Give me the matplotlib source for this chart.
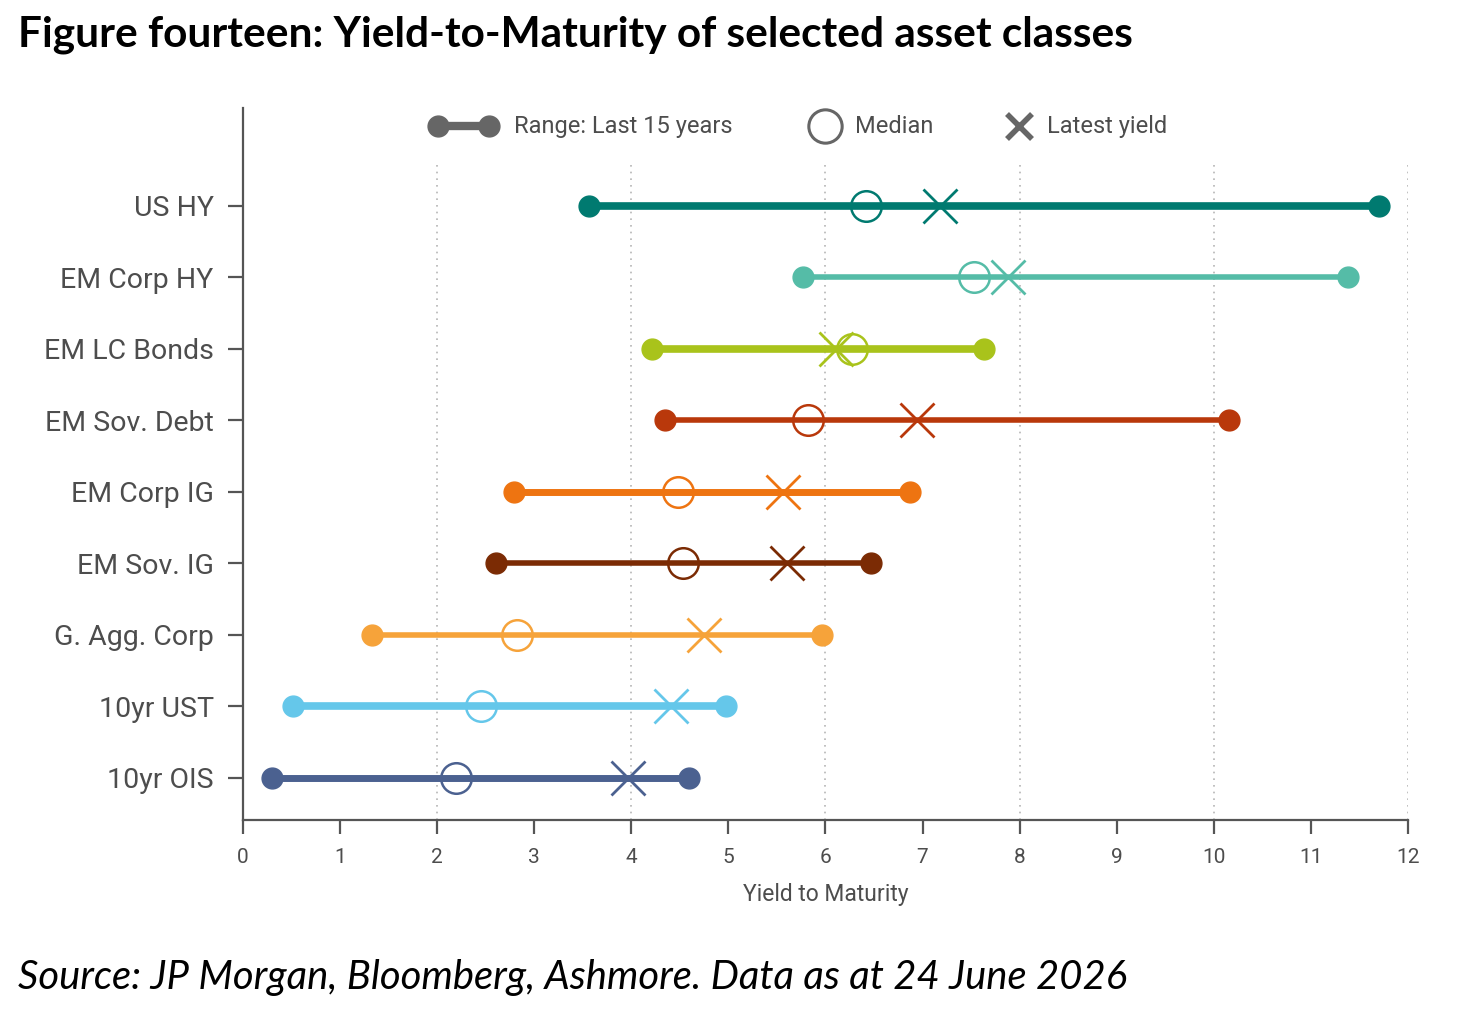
import matplotlib

matplotlib.use("Agg")
import matplotlib.pyplot as plt

# --- DATA ---
ASSETS = [
    "10yr OIS",
    "10yr UST",
    "G. Agg. Corp",
    "EM Sov. IG",
    "EM Corp IG",
    "EM Sov. Debt",
    "EM LC Bonds",
    "EM Corp HY",
    "US HY",
]
RANGE_MIN = [0.30, 0.52, 1.33, 2.61, 2.79, 4.35, 4.21, 5.77, 3.56]
RANGE_MAX = [4.59, 4.98, 5.96, 6.47, 6.87, 10.16, 7.63, 11.38, 11.70]
MEDIAN = [2.19, 2.45, 2.82, 4.53, 4.48, 5.82, 6.27, 7.53, 6.42]
LATEST = [3.97, 4.41, 4.75, 5.60, 5.56, 6.94, 6.11, 7.88, 7.18]
X_TICKS = list(range(0, 13))

# --- STYLE ---
COLORS = [
    "#4b6190",
    "#65c7ea",
    "#f6a33a",
    "#7b2b04",
    "#ee7411",
    "#b9380b",
    "#a9c31b",
    "#55bca7",
    "#007a70",
]
LINE_W = [5.0, 5.5, 4.0, 4.0, 5.0, 4.0, 5.5, 4.0, 5.5]
AXIS_GREY = "#555555"
TEXT_GREY = "#4d4d4d"
LEG_GREY = "#666666"

plt.rcParams["font.family"] = ["Roboto", "DejaVu Sans"]

fig = plt.figure(figsize=(14.72, 10.31), dpi=100)
ax = fig.add_axes([0.165, 0.2047, 0.7915, 0.6906])

for i, name in enumerate(ASSETS):
    c = COLORS[i]
    ax.plot(
        [RANGE_MIN[i], RANGE_MAX[i]],
        [i, i],
        color=c,
        lw=LINE_W[i],
        marker="o",
        ms=15,
        solid_capstyle="round",
        zorder=3,
    )
    ax.plot(MEDIAN[i], i, marker="o", ms=22, mfc="none", mec=c, mew=1.8, zorder=4)
    ax.plot(LATEST[i], i, marker="x", ms=25, mec=c, mew=2.0, zorder=5)

# dotted vertical guides every 2
for gx in range(2, 13, 2):
    ax.plot([gx, gx], [-0.59, 8.64], color="#b5b5b5", lw=1.2, ls=(0, (1, 3)), zorder=1)

ax.set_xlim(0, 12)
ax.set_ylim(-0.59, 9.37)
ax.set_xticks(X_TICKS)
ax.set_yticks(range(len(ASSETS)))
ax.set_yticklabels(ASSETS)

for side in ["top", "right"]:
    ax.spines[side].set_visible(False)
for side in ["left", "bottom"]:
    ax.spines[side].set_color(AXIS_GREY)
    ax.spines[side].set_linewidth(1.6)

ax.tick_params(axis="y", length=11, width=1.6, color=AXIS_GREY, pad=10,
               labelsize=20.5, labelcolor=TEXT_GREY)
ax.tick_params(axis="x", length=10, width=1.6, color=AXIS_GREY, pad=10,
               labelsize=15, labelcolor=TEXT_GREY)
ax.set_xlabel("Yield to Maturity", fontsize=16.5, color=TEXT_GREY, labelpad=12)

# legend, drawn by hand in axes fractions
ly = 0.9745
tr = ax.transAxes
ax.plot([0.1674, 0.2112], [ly, ly], color=LEG_GREY, lw=6, marker="o", ms=15,
        transform=tr, clip_on=False)
ax.text(0.2326, ly, "Range: Last 15 years", transform=tr, fontsize=17,
        color=TEXT_GREY, va="center", ha="left")
ax.plot([0.4996], [ly], ls="none", marker="o", ms=24, mfc="none", mec=LEG_GREY,
        mew=2.2, transform=tr, clip_on=False)
ax.text(0.5253, ly, "Median", transform=tr, fontsize=17,
        color=TEXT_GREY, va="center", ha="left")
ax.plot([0.6661], [ly], ls="none", marker="x", ms=18, mec=LEG_GREY, mew=4,
        transform=tr, clip_on=False)
ax.text(0.6901, ly, "Latest yield", transform=tr, fontsize=17,
        color=TEXT_GREY, va="center", ha="left")

fig.text(0.012, 0.966, "Figure fourteen: Yield-to-Maturity of selected asset classes",
         fontsize=30.5, fontweight="bold", family=["Lato", "DejaVu Sans"],
         ha="left", va="center", color="black")
fig.text(0.012, 0.052, "Source: JP Morgan, Bloomberg, Ashmore. Data as at 24 June 2026",
         fontsize=28.8, style="italic", family=["Lato", "DejaVu Sans"],
         ha="left", va="center", color="black")

fig.savefig("out.png", dpi=100, facecolor="white")
